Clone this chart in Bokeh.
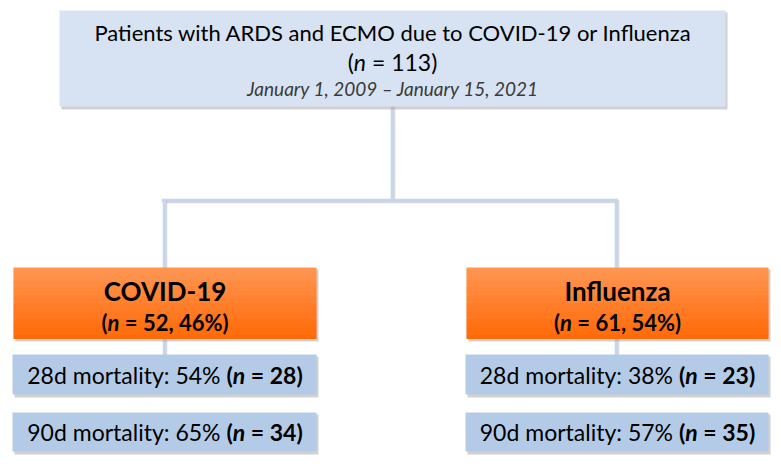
import subprocess
from bokeh.plotting import figure
from bokeh.models import Range1d
from bokeh.core.properties import value
from bokeh.embed import file_html
from bokeh.resources import INLINE

# ---------------- data ----------------
title_text = "Patients with ARDS and ECMO due to COVID-19 or Influenza"
total_n = 113
date_text = "January 1, 2009 \u2013 January 15, 2021"
groups = ["COVID-19", "Influenza"]
group_n = [52, 61]
group_pct = [46, 54]
mort28_pct = [54, 38]
mort28_n = [28, 23]
mort90_pct = [65, 57]
mort90_n = [34, 35]

FONT = "Lato"
NB = "\u00a0"

# ---------------- text measuring ----------------
_cache = {}
def text_width(txt, size, bold=False, italic=False):
    key = (bold, italic)
    try:
        from PIL import ImageFont
        if key not in _cache:
            pat = FONT + (":bold" if bold else ":regular") + (":italic" if italic else "")
            path = subprocess.run(["fc-match", "-f", "%{file}", pat],
                                  capture_output=True, text=True).stdout.strip()
            _cache[key] = path
        f = ImageFont.truetype(_cache[key], size)
        return f.getlength(txt.replace(NB, " "))
    except Exception:
        return len(txt) * size * (0.55 if bold else 0.52)

W, H = 776, 462
p = figure(width=W, height=H, output_backend="svg", toolbar_location=None,
           x_range=Range1d(0, W), y_range=Range1d(H, 0),
           min_border=0)
p.axis.visible = False
p.grid.visible = False
p.outline_line_color = None
p.background_fill_color = "white"

def box(l, r, t, b, color, shadow=True):
    if shadow:
        p.quad(left=[l + 2], right=[r + 2], top=[t + 2], bottom=[b + 3],
               fill_color="#9a9a9a", fill_alpha=0.45, line_color=None)
    p.quad(left=[l], right=[r], top=[t], bottom=[b], fill_color=color, line_color=None)

def grad_box(l, r, t, b, c1, c2, steps=40):
    p.quad(left=[l + 2], right=[r + 2], top=[t + 2], bottom=[b + 3],
           fill_color="#9a9a9a", fill_alpha=0.45, line_color=None)
    h = (b - t) / steps
    lefts, rights, tops, bots, cols = [], [], [], [], []
    for i in range(steps):
        f = i / (steps - 1)
        rr = int(c1[0] + (c2[0] - c1[0]) * f)
        gg = int(c1[1] + (c2[1] - c1[1]) * f)
        bb = int(c1[2] + (c2[2] - c1[2]) * f)
        lefts.append(l); rights.append(r)
        tops.append(t + i * h); bots.append(t + (i + 1) * h + 0.6)
        cols.append("#%02x%02x%02x" % (rr, gg, bb))
    p.quad(left=lefts, right=rights, top=tops, bottom=bots, fill_color=cols, line_color=None)

def vline(x, y0, y1):
    p.segment(x0=[x + 2.2], y0=[y0], x1=[x + 2.2], y1=[y1], line_color="#a0a0a0", line_width=1.2, line_alpha=0.4)
    p.segment(x0=[x], y0=[y0], x1=[x], y1=[y1], line_color="#c5d6ed", line_width=3.5)

def hline(x0, x1, y):
    p.segment(x0=[x0], y0=[y + 2.2], x1=[x1], y1=[y + 2.2], line_color="#a0a0a0", line_width=1.2, line_alpha=0.4)
    p.segment(x0=[x0 - 1.75], y0=[y], x1=[x1 + 1.75], y1=[y], line_color="#c5d6ed", line_width=3.5)

def rich(cx, cy, segs, size, color="#000000"):
    """segs: list of (text, bold, italic), centered at cx."""
    widths = [text_width(s, size, b, i) for s, b, i in segs]
    x = cx - sum(widths) / 2
    for (s, b, i), w in zip(segs, widths):
        style = ("bold " if b else "") + ("italic" if i else "")
        style = style.strip() or "normal"
        p.text(x=[x], y=[cy], text=[s], text_font=value(FONT), text_font_size=f"{size}px",
               text_font_style=style, text_align="left", text_baseline="middle",
               text_color=color)
        x += w

# ---------------- connectors ----------------
top_cx = 392
vline(top_cx, 106, 200)
hline(163, 616, 200)
centers = [164, 616]
for cx in centers:
    vline(cx, 200, 268)
    vline(cx, 336, 355)

# ---------------- top box ----------------
box(59, 725, 10, 106, "#d7e3f2")
rich(top_cx, 32, [(title_text, False, False)], 22)
rich(top_cx, 61, [("(", False, False), ("n", False, True), (f"{NB}={NB}{total_n})", False, False)], 23)
rich(top_cx, 88, [(date_text, False, True)], 19, color="#3a3a3a")

# ---------------- group boxes ----------------
lefts = [13, 466]
rights = [316, 768]
for k in range(2):
    l, r = lefts[k], rights[k]
    cx = (l + r) / 2
    grad_box(l, r, 267, 338, (255, 150, 82), (255, 106, 8))
    rich(cx, 290, [(groups[k], True, False)], 26)
    rich(cx, 322, [("(", True, False), ("n", True, True),
                   (f"{NB}={NB}{group_n[k]},{NB}{group_pct[k]}%)", True, False)], 22)
    box(l - 1, r, 354, 394, "#b4cbe7")
    rich(cx, 374, [(f"28d{NB}mortality:{NB}{mort28_pct[k]}%{NB}", False, False), ("(", True, False),
                   ("n", True, True), (f"{NB}={NB}{mort28_n[k]})", True, False)], 23)
    box(l - 1, r, 412, 451, "#b4cbe7")
    rich(cx, 431, [(f"90d{NB}mortality:{NB}{mort90_pct[k]}%{NB}", False, False), ("(", True, False),
                   ("n", True, True), (f"{NB}={NB}{mort90_n[k]})", True, False)], 23)

open("out.html", "w").write(file_html(p, INLINE))
